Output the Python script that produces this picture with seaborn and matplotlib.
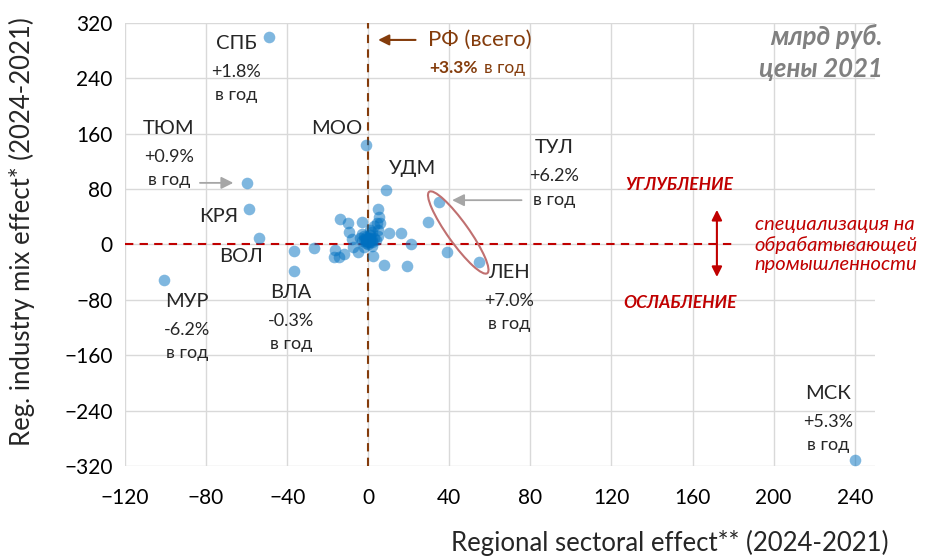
import matplotlib
matplotlib.use('Agg')
import matplotlib.pyplot as plt
import matplotlib.patches as mpatches
import matplotlib.transforms as mtransforms
import pandas as pd
import seaborn as sns

# labelled regions (x = regional sectoral effect, y = industry mix effect), bn rub
names = ['СПБ', 'ТЮМ', 'КРЯ', 'ВОЛ', 'МУР', 'ВЛА', 'МОО', 'УДМ', 'ТУЛ', 'ЛЕН', 'МСК']
names_x = [-49, -60, -59, -54, -101, -36.5, -1, 9, 35, 54.5, 240]
names_y = [300, 89, 51, 9, -51, -39, 144, 79, 62, -26, -311]
growth = ['+1.8%', '+0.9%', '', '', '-6.2%', '-0.3%', '', '', '+6.2%', '+7.0%', '+5.3%']

# the rest of the regions
other_x = [-36.5, 29.5, 39, -27, -16.5, -17, -14.5, -12, -5, -7.5, 2.5, 8, 19, 21,
           16, 10, 5, -9.5, -14, -10, -3, 4.5, 5, 5.5, 6, 2, -8,
           -3, 0, 2, -2, 1, 3, -4, 0, 2, -1, 4, -3, 1, 3, -2, 5, -1, 1,
           -1, 0, 1, -2, 0, 1, -1, 2]
other_y = [-9, 33, -11, -5, -8, -17.5, -17.5, -14, -11, -4, -17, -29, -31, 1,
           16, 17, 21, 17.5, 37, 31.5, 33, 30.5, 51, 39, 31.5, 18.5, 7.5,
           5, 8, 4, 12, 14, 9, 9, 0, -2, 2, 6, 15, 21, 26, -4, 12, 6, 10,
           5, 4, 7, 8, 10, 3, 11, 6]

rf_total = 'РФ (всего)'
rf_growth = '+3.3%'

df = pd.DataFrame({'x': names_x + other_x, 'y': names_y + other_y})

BROWN = '#843C0C'
RED = '#C00000'
GRAY = '#A6A6A6'

sns.set_theme(style='white')
plt.rcParams['font.family'] = ['Lato', 'Noto Sans', 'DejaVu Sans']

fig = plt.figure(figsize=(9.28, 5.59), dpi=100)
ax = fig.add_axes([0.1347, 0.1664, 0.8082, 0.7925])

sns.scatterplot(data=df, x='x', y='y', ax=ax, color='#0070C0', alpha=0.5,
                s=70, linewidth=0, zorder=4)

ax.set_xlim(-120, 250)
ax.set_ylim(-320, 320)
ax.set_xticks(range(-120, 241, 40))
ax.set_yticks(range(-320, 321, 80))
ax.grid(True, color='#D9D9D9', lw=1)
for s in ax.spines.values():
    s.set_visible(False)
ax.tick_params(axis='both', length=0, labelsize=15, colors='black')
ax.tick_params(axis='x', pad=16)
ax.tick_params(axis='y', pad=9)
ax.set_xlabel('')
ax.set_ylabel('')

fig.text(0.957, 0.0286, 'Regional sectoral effect** (2024-2021)', ha='right',
         va='center', fontsize=18.5)
fig.text(0.0237, 0.585, 'Reg. industry mix effect* (2024-2021)', rotation=90,
         ha='center', va='center', fontsize=18.5)

# zero lines
ax.axvline(0, color=BROWN, ls=(0, (4, 3)), lw=1.5, zorder=3)
ax.plot([-120, 182], [0, 0], color=RED, ls=(0, (4, 3)), lw=1.5, zorder=3)

# region labels
label_pos = {
    'СПБ': (-65.2, 291), 'ТЮМ': (-98.3, 168), 'КРЯ': (-73.6, 41), 'ВОЛ': (-62.7, -17),
    'МУР': (-89.4, -82), 'ВЛА': (-38, -69), 'МОО': (-15.3, 168), 'УДМ': (21.7, 110),
    'ТУЛ': (91.9, 139.5), 'ЛЕН': (69.6, -40), 'МСК': (226.7, -215),
}
for name, g in zip(names, growth):
    lx, ly = label_pos[name]
    ax.text(lx, ly, name, ha='center', va='center', fontsize=14.5)
    if g:
        ax.annotate(g, (lx, ly), xytext=(0, -20.5), textcoords='offset points',
                    ha='center', va='center', fontsize=13)
        ax.annotate('в год', (lx, ly), xytext=(0, -37.5), textcoords='offset points',
                    ha='center', va='center', fontsize=13)

# gray pointers
ax.annotate('', xy=(-65.2, 89), xytext=(-84.4, 89),
            arrowprops=dict(arrowstyle='-|>', color=GRAY, lw=1.3, mutation_scale=18))
ax.annotate('', xy=(40, 64), xytext=(77, 64),
            arrowprops=dict(arrowstyle='-|>', color=GRAY, lw=1.3, mutation_scale=18))

# ellipse round ТУЛ / ЛЕН, drawn in pixels
cx, cy = ax.transData.transform((44.4, 17.3))
ax.add_patch(mpatches.Ellipse((cx, cy), 100, 21, angle=-54.5, fill=False,
                              edgecolor='#C07070', lw=1.5,
                              transform=mtransforms.IdentityTransform(), zorder=5))

# Russia total
ax.annotate('', xy=(3.5, 295.5), xytext=(24.7, 295.5),
            arrowprops=dict(arrowstyle='-|>', color=BROWN, lw=1.5, mutation_scale=16))
ax.text(29.6, 295.5, rf_total, color=BROWN, fontsize=16, ha='left', va='center')
ax.text(53.8, 255, rf_growth, color=BROWN, fontsize=12.5, fontweight='bold',
        ha='right', va='center')
ax.text(57.3, 255, 'в год', color=BROWN, fontsize=12.5, ha='left', va='center')

# units
fig.text(0.9515, 0.934, 'млрд руб.', color='#808080', fontsize=18.5, fontweight='bold',
         fontstyle='italic', ha='right', va='center')
fig.text(0.9515, 0.877, 'цены 2021', color='#808080', fontsize=18.5, fontweight='bold',
         fontstyle='italic', ha='right', va='center')

# specialisation note
ax.annotate('', xy=(172, 54), xytext=(172, -51),
            arrowprops=dict(arrowstyle='<|-|>', color=RED, lw=1.5, mutation_scale=15))
ax.text(153.6, 86, 'УГЛУБЛЕНИЕ', color=RED, fontsize=12.5, fontweight='bold',
        fontstyle='italic', ha='center', va='center')
ax.text(153.6, -84, 'ОСЛАБЛЕНИЕ', color=RED, fontsize=12.5, fontweight='bold',
        fontstyle='italic', ha='center', va='center')
ax.text(190.6, 0, 'специализация на\nобрабатывающей\nпромышленности', color=RED,
        fontsize=14.5, fontstyle='italic', ha='left', va='center', linespacing=1.2)

fig.savefig('out.png', dpi=100)
